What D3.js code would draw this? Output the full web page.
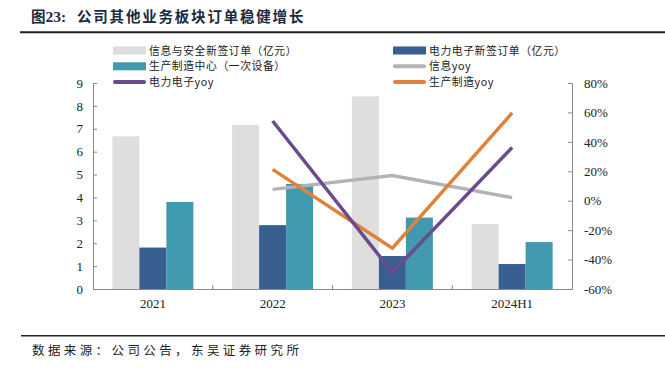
<!DOCTYPE html>
<html><head><meta charset="utf-8">
<script src="https://cdn.jsdelivr.net/npm/d3@7"></script>
<style>
body{margin:0;background:#fff;}
svg{display:block;}
</style></head>
<body>
<svg id="c" width="665" height="377"></svg>
<script>
const categories = ["2021","2022","2023","2024H1"];
const infoOrders = [6.67, 7.17, 8.42, 2.84];
const powerOrders = [1.81, 2.79, 1.44, 1.09];
const mfgOrders = [3.80, 4.59, 3.12, 2.05];
const infoYoy = [null, 7.7, 17.2, 2.1];
const powerYoy = [null, 54.2, -48.7, 36.2];
const mfgYoy = [null, 21.3, -32.2, 59.7];
const leftTicks = [0,1,2,3,4,5,6,7,8,9];
const rightTicks = [-60,-40,-20,0,20,40,60,80];

const C = {gray:"#dedede", dark:"#385f8f", teal:"#4199b0", lgray:"#b3b3b3", purple:"#6a4b8f", orange:"#e0823a"};
const svg = d3.select("#c");
const serif = "'Liberation Serif','Times New Roman',serif";
const cjk = "'Noto Sans CJK SC',sans-serif";

const L = 93, R = 572, T = 83, B = 289;
const x = d3.scaleBand().domain(categories).range([L,R]);
const y = d3.scaleLinear().domain([0,9]).range([B,T]);
const y2 = d3.scaleLinear().domain([-60,80]).range([B,T]);

// title
const tt = svg.append("text").attr("x",31).attr("y",21.5).attr("font-weight","bold")
  .attr("font-size",14.5).attr("fill","#1c2940");
tt.append("tspan").attr("font-family",cjk).text("图");
tt.append("tspan").attr("font-family",serif).attr("font-size",15.5).text("23:");
tt.append("tspan").attr("x",77).attr("font-family",cjk).attr("letter-spacing",1.8).text("公司其他业务板块订单稳健增长");
svg.append("line").attr("x1",20).attr("x2",665).attr("y1",32.3).attr("y2",32.3).attr("stroke","#222").attr("stroke-width",2);
svg.append("line").attr("x1",21).attr("x2",665).attr("y1",335.7).attr("y2",335.7).attr("stroke","#222").attr("stroke-width",1.5);
svg.append("text").attr("x",32).attr("y",355).attr("font-family",cjk).attr("font-size",12.5)
  .attr("letter-spacing",3.4).attr("fill","#222").text("数据来源：公司公告，东吴证券研究所");

// bars
const bw = 27;
const series = [{v:infoOrders,c:C.gray,off:-bw},{v:powerOrders,c:C.dark,off:0},{v:mfgOrders,c:C.teal,off:bw}];
series.forEach(s=>{
  svg.append("g").selectAll("rect").data(categories).join("rect")
    .attr("x",(d,i)=>x(d)+x.bandwidth()/2+s.off-bw/2)
    .attr("width",bw)
    .attr("y",(d,i)=>y(s.v[i]))
    .attr("height",(d,i)=>B-y(s.v[i]))
    .attr("fill",s.c);
});

// axes
const ax = svg.append("g").attr("transform",`translate(${L},0)`)
  .call(d3.axisLeft(y).tickValues(leftTicks).tickSizeInner(-4).tickSizeOuter(0).tickPadding(10));
const ax2 = svg.append("g").attr("transform",`translate(${R},0)`)
  .call(d3.axisRight(y2).tickValues(rightTicks).tickSizeInner(-4).tickSizeOuter(0).tickPadding(12).tickFormat(d=>d+"%"));
const axb = svg.append("g").attr("transform",`translate(0,${B})`)
  .call(d3.axisBottom(x).tickSize(0).tickPadding(10));
[ax,ax2,axb].forEach(g=>{
  g.selectAll("path").attr("stroke","#888");
  g.selectAll("line").attr("stroke","#888");
  g.selectAll("text").attr("font-family",serif).attr("font-size",13).attr("fill","#222");
});
// category boundary ticks
svg.append("g").selectAll("line").data(categories.slice(1)).join("line")
  .attr("x1",d=>x(d)).attr("x2",d=>x(d)).attr("y1",B).attr("y2",B-4).attr("stroke","#888");

// lines
const line = d3.line().defined(d=>d.v!=null).x(d=>x(d.c)+x.bandwidth()/2).y(d=>y2(d.v));
[[infoYoy,C.lgray],[mfgYoy,C.orange],[powerYoy,C.purple]].forEach(([arr,col])=>{
  svg.append("path").datum(categories.map((c,i)=>({c,v:arr[i]})))
    .attr("d",line).attr("fill","none").attr("stroke",col).attr("stroke-width",3.5);
});

// legend
const legend = [
  {t:"信息与安全新签订单（亿元）",c:C.gray,type:"bar",x:113,y:50.5},
  {t:"电力电子新签订单（亿元）",c:C.dark,type:"bar",x:393,y:50.5},
  {t:"生产制造中心（一次设备）",c:C.teal,type:"bar",x:113,y:66.3},
  {t:"信息yoy",c:C.lgray,type:"line",x:393,y:66.3},
  {t:"电力电子yoy",c:C.purple,type:"line",x:113,y:82},
  {t:"生产制造yoy",c:C.orange,type:"line",x:393,y:82},
];
const lg = svg.append("g").selectAll("g").data(legend).join("g");
lg.append("rect").attr("x",d=>d.x).attr("width",33)
  .attr("y",d=>d.type==="bar"?d.y-4:d.y-2).attr("height",d=>d.type==="bar"?8:4)
  .attr("rx",d=>d.type==="line"?2:0).attr("fill",d=>d.c);
lg.append("text").attr("x",d=>d.x+36).attr("y",d=>d.y+4).attr("font-family",cjk)
  .attr("font-size",10.8).attr("letter-spacing",0.6).attr("fill","#222").text(d=>d.t);
</script>
</body></html>
